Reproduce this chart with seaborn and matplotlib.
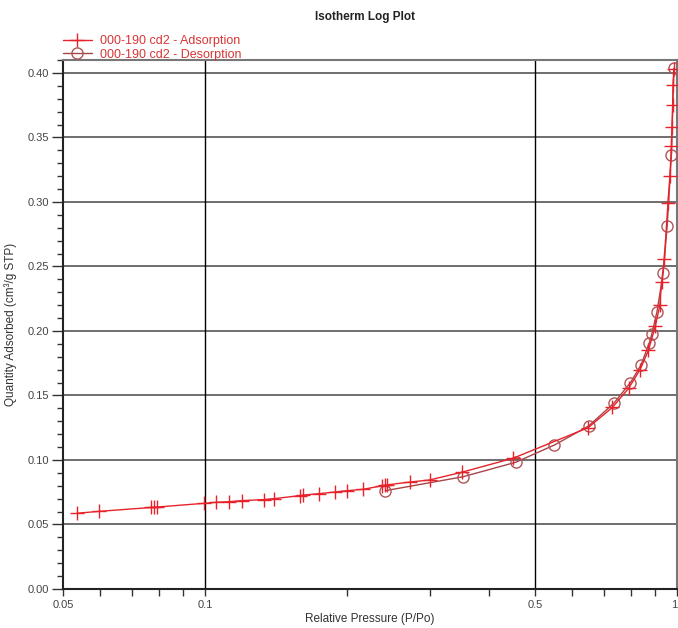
import matplotlib
matplotlib.use("Agg")
import matplotlib.pyplot as plt
import matplotlib.ticker as mticker
import seaborn as sns
import pandas as pd
import numpy as np

ads_p = [0.0535, 0.0597, 0.0770, 0.0780, 0.0790, 0.0995, 0.1055, 0.1125, 0.1200,
         0.1330, 0.1400, 0.1590, 0.1610, 0.1746, 0.1886, 0.2000, 0.2165, 0.2370,
         0.2400, 0.2430, 0.2720, 0.2990, 0.3500, 0.4490, 0.6480, 0.7300, 0.7900,
         0.8350, 0.8700, 0.9000, 0.9200, 0.9280, 0.9400, 0.9570, 0.9660, 0.9730,
         0.9760, 0.9790, 0.9810, 0.9850]
ads_q = [0.0587, 0.0602, 0.0632, 0.0633, 0.0635, 0.0664, 0.0672, 0.0677, 0.0685,
         0.0693, 0.0700, 0.0724, 0.0727, 0.0739, 0.0752, 0.0762, 0.0773, 0.0800,
         0.0804, 0.0807, 0.0829, 0.0845, 0.0905, 0.1013, 0.1250, 0.1408, 0.1556,
         0.1700, 0.1850, 0.2040, 0.2200, 0.2380, 0.2560, 0.2995, 0.3200, 0.3430,
         0.3580, 0.3750, 0.3910, 0.4030]

des_p = [0.985, 0.973, 0.953, 0.935, 0.907, 0.885, 0.874, 0.839, 0.797, 0.735,
         0.650, 0.550, 0.455, 0.352, 0.241]
des_q = [0.4036, 0.3360, 0.2810, 0.2450, 0.2150, 0.1980, 0.1910, 0.1736, 0.1600,
         0.1440, 0.1264, 0.1116, 0.0982, 0.0870, 0.0762]

ads_label = "000-190 cd2 - Adsorption"
des_label = "000-190 cd2 - Desorption"
title = "Isotherm Log Plot"
xlabel = "Relative Pressure (P/Po)"
ylabel = "Quantity Adsorbed (cm³/g STP)"
xticks = [0.05, 0.1, 0.5, 1]
xticklabels = ["0.05", "0.1", "0.5", "1"]

sns.set_style("white")
plt.rcParams['font.family'] = ['Liberation Sans', 'DejaVu Sans']

fig = plt.figure(figsize=(6.78, 6.28), dpi=100)
ax = fig.add_axes([63/678, 1-589/628, (677-63)/678, (589-60)/628])

ads_df = pd.DataFrame({"p": ads_p, "q": ads_q})
des_df = pd.DataFrame({"p": des_p, "q": des_q})

ads_color = "#e8222a"
des_color = "#a84448"

sns.lineplot(data=des_df, x="p", y="q", ax=ax, sort=False, estimator=None,
             color=des_color, linewidth=1.0, marker="o", markersize=8,
             markerfacecolor="none", markeredgecolor="#b05558", markeredgewidth=1.0,
             label=des_label, zorder=3)
sns.lineplot(data=ads_df, x="p", y="q", ax=ax, sort=False, estimator=None,
             color=ads_color, linewidth=1.0, marker="+", markersize=10,
             markeredgecolor=ads_color, markeredgewidth=1.0,
             label=ads_label, zorder=4)

ax.set_xscale("log")
ax.set_xlim(0.05, 1.0)
ax.set_ylim(0.0, 0.41)

ax.set_xticks(xticks)
ax.set_xticklabels(xticklabels)
ax.xaxis.set_minor_locator(mticker.LogLocator(base=10, subs=np.arange(2, 10)))
ax.xaxis.set_minor_formatter(mticker.NullFormatter())
ax.yaxis.set_major_locator(mticker.MultipleLocator(0.05))
ax.yaxis.set_minor_locator(mticker.MultipleLocator(0.01))
ax.yaxis.set_major_formatter(mticker.FormatStrFormatter("%.2f"))

ax.tick_params(axis="y", which="major", direction="out", length=8, width=1,
               color="#333333", labelsize=8, labelcolor="#444444", left=True, pad=2)
ax.tick_params(axis="y", which="minor", direction="out", length=4, width=1,
               color="#333333", left=True)
ax.tick_params(axis="x", which="major", direction="out", length=5, width=1,
               color="#333333", labelsize=8, labelcolor="#444444", bottom=True, pad=3)
ax.tick_params(axis="x", which="minor", direction="out", length=5, width=1,
               color="#333333", bottom=True)
ax.get_xticklabels()[-1].set_horizontalalignment("right")

ax.grid(False)
for v in [0.05 * k for k in range(1, 9)]:
    ax.axhline(v, color="#555555", linewidth=1.2, zorder=1)
for v in [0.1, 0.5]:
    ax.axvline(v, color="black", linewidth=1.0, zorder=1)

for side in ["left", "bottom"]:
    ax.spines[side].set_color("#222222")
    ax.spines[side].set_linewidth(1.5)
for side in ["top", "right"]:
    ax.spines[side].set_color("#777777")
    ax.spines[side].set_linewidth(1.5)

ax.set_xlabel(xlabel, fontsize=8.5, color="#333333", labelpad=2)
ax.set_ylabel(ylabel, fontsize=8.5, color="#333333")
ax.yaxis.set_label_coords(-0.075, 0.5)
fig.suptitle(title, x=365/678, y=1-17/628, fontsize=8.5, fontweight="bold",
             va="center", color="#222222")

h, l = ax.get_legend_handles_labels()
order = [l.index(ads_label), l.index(des_label)]
leg = ax.legend([h[i] for i in order], [l[i] for i in order],
                loc="lower left", bbox_to_anchor=(0.0, 0.999), frameon=False,
                fontsize=9, handlelength=2.3, handletextpad=0.7, borderpad=0.0,
                labelspacing=0.1, borderaxespad=0.0)
for text in leg.get_texts():
    text.set_color("#d83535")

fig.savefig("out.png", dpi=100)
